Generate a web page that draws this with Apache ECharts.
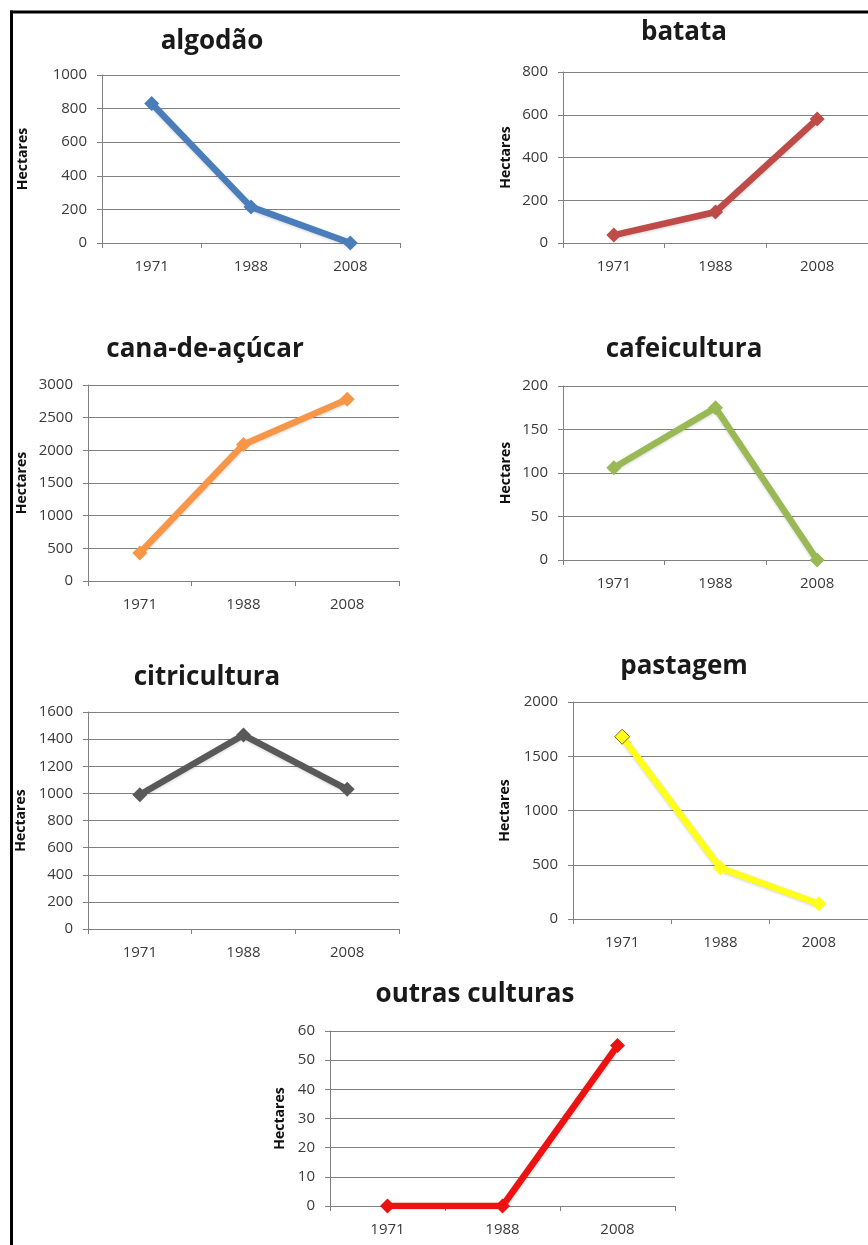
<!DOCTYPE html>
<html>
<head>
<meta charset="utf-8">
<script src="https://cdn.jsdelivr.net/npm/echarts@6/dist/echarts.min.js"></script>
<style>
html,body{margin:0;padding:0;background:#fff;}
#c{width:868px;height:1245px;}
</style>
</head>
<body>
<div id="c"></div>
<script>
// ---- data ----
const years = ['1971', '1988', '2008'];
const algodao = [830, 215, 0];
const batata = [37, 145, 580];
const canaDeAcucar = [430, 2090, 2780];
const cafeicultura = [106, 175, 0];
const citricultura = [990, 1430, 1030];
const pastagem = [1680, 470, 140];
const outrasCulturas = [0, 0, 55];
const titles = ['algodão', 'batata', 'cana-de-açúcar', 'cafeicultura', 'citricultura', 'pastagem', 'outras culturas'];
const yMax = [1000, 800, 3000, 200, 1600, 2000, 60];
const yStep = [200, 200, 500, 50, 200, 500, 10];
const yName = 'Hectares';

// ---- layout / style ----
const panels = [
  {values: algodao, color: '#4A7EBB', grid: {left: 102, top: 75, width: 298, height: 168}, tx: 207, ty: 37, gap: 72},
  {values: batata, color: '#BE4B48', grid: {left: 563, top: 72, width: 306, height: 171}, tx: 679, ty: 28, gap: 50},
  {values: canaDeAcucar, color: '#F79646', grid: {left: 88, top: 385, width: 311, height: 196}, tx: 200, ty: 345, gap: 59},
  {values: cafeicultura, color: '#98B954', grid: {left: 563, top: 386, width: 306, height: 174}, tx: 679, ty: 345, gap: 50},
  {values: citricultura, color: '#595959', grid: {left: 88, top: 712, width: 311, height: 217}, tx: 202, ty: 673, gap: 60},
  {values: pastagem, color: '#FFFF1A', grid: {left: 573, top: 702, width: 296, height: 217}, tx: 679, ty: 662, gap: 61},
  {values: outrasCulturas, color: '#EE1111', grid: {left: 330, top: 1031, width: 345, height: 175}, tx: 470, ty: 990, gap: 43}
];

const FONT = '"Open Sans", "Noto Sans", sans-serif';
const GRIDC = '#808080';

const option = {
  animation: false,
  backgroundColor: '#ffffff',
  title: [], grid: [], xAxis: [], yAxis: [], series: [],
  graphic: [
    {type: 'line', shape: {x1: 10, y1: 12, x2: 900, y2: 12}, style: {stroke: '#000', lineWidth: 3}},
    {type: 'line', shape: {x1: 11.5, y1: 10.5, x2: 11.5, y2: 1300}, style: {stroke: '#000', lineWidth: 3}}
  ]
};

panels.forEach((p, i) => {
  option.title.push({
    text: titles[i], left: p.tx, top: p.ty, textAlign: 'center', textVerticalAlign: 'middle',
    textStyle: {fontFamily: FONT, fontWeight: 'bold', fontSize: 26, color: '#1a1a1a'}
  });
  option.grid.push(Object.assign({containLabel: false}, p.grid));
  option.xAxis.push({
    type: 'category', gridIndex: i, data: years, boundaryGap: true,
    axisLine: {show: true, lineStyle: {color: GRIDC, width: 1}},
    axisTick: {show: true, length: 5, lineStyle: {color: GRIDC}},
    axisLabel: {fontFamily: FONT, fontSize: 15, color: '#3a3a3a', margin: 16},
    splitLine: {show: false}
  });
  option.yAxis.push({
    type: 'value', gridIndex: i, min: 0, max: yMax[i], interval: yStep[i],
    name: yName, nameLocation: 'middle', nameRotate: 90, nameGap: p.gap,
    nameTextStyle: {fontFamily: FONT, fontWeight: 'bold', fontSize: 14, color: '#111'},
    axisLine: {show: true, lineStyle: {color: GRIDC, width: 1}},
    axisTick: {show: true, length: 5, lineStyle: {color: GRIDC}},
    axisLabel: {fontFamily: FONT, fontSize: 15, color: '#3a3a3a', margin: 15, formatter: v => String(v)},
    splitLine: {show: true, lineStyle: {color: GRIDC, width: 1}}
  });
  const isPast = i === 5;
  option.series.push({
    type: 'line', xAxisIndex: i, yAxisIndex: i,
    data: p.values.map((v, k) => (isPast && k === 0)
      ? {value: v, itemStyle: {borderColor: '#7a6a10', borderWidth: 1}}
      : v),
    symbol: 'diamond', symbolSize: 15,
    lineStyle: {color: p.color, width: 6.5, shadowColor: 'rgba(0,0,0,0.18)', shadowBlur: 3, shadowOffsetY: 1},
    itemStyle: {color: p.color, borderWidth: 0},
    emphasis: {disabled: true}
  });
});

const chart = echarts.init(document.getElementById('c'), null, {renderer: 'canvas'});
chart.setOption(option);
</script>
</body>
</html>
